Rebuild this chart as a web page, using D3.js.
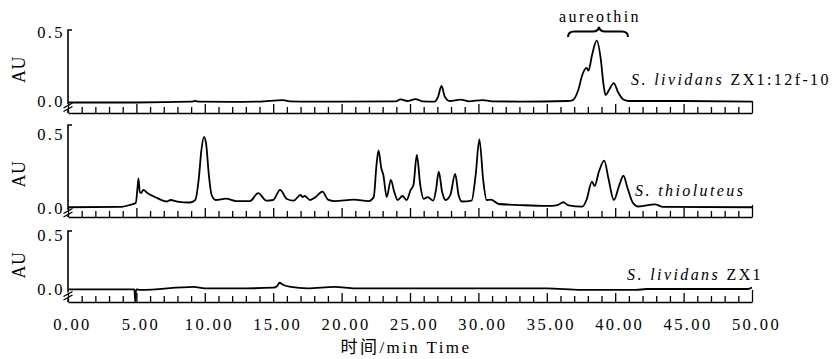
<!DOCTYPE html>
<html>
<head>
<meta charset="utf-8">
<script src="https://cdn.jsdelivr.net/npm/d3@7"></script>
<style>
  body { margin: 0; background: #fff; }
  svg text { font-family: "Liberation Serif", "Times New Roman", "DejaVu Serif", serif; letter-spacing: 2.4px; fill: #000; }
</style>
</head>
<body>
<div id="root"></div>
<script>
// retention time ticks (min) and absorbance ticks
const TIME_TICKS = d3.range(0, 51);
const AU_TICKS = [0, 0.5];

// [time (min), AU]
const engineered = [
  [0, -0.011], [5, -0.011], [9, -0.005], [9.3, 0], [9.6, -0.005], [12, -0.007], [14, -0.004],
  [15.7, 0.007], [16.2, -0.003], [17, -0.004], [20, -0.005], [24, -0.002], [24.3, 0.012],
  [24.8, 0], [25.4, 0.014], [25.9, -0.002], [26.8, -0.004], [27.05, 0.03], [27.3, 0.109],
  [27.55, 0.03], [27.9, 0], [28.7, 0.01], [29.3, -0.002], [30.3, 0.007], [31, -0.003],
  [33, -0.004], [36.5, 0], [36.9, 0.007], [37.3, 0.08], [37.6, 0.19], [37.9, 0.24],
  [38.05, 0.22], [38.3, 0.33], [38.65, 0.437], [38.95, 0.30], [39.15, 0.116], [39.3, 0.043],
  [39.55, 0.08], [39.9, 0.13], [40.2, 0.065], [40.6, 0.011], [41, 0], [45, 0], [50, -0.004]
];

const thioluteus = [
  [0, 0.005], [3.8, 0.007], [4.5, 0.02], [4.95, 0.034], [5.1, 0.155], [5.15, 0.2], [5.25, 0.108],
  [5.35, 0.101], [5.5, 0.122], [5.8, 0.101], [6.5, 0.068], [7.2, 0.044], [7.5, 0.054], [8, 0.043],
  [8.9, 0.037], [9.3, 0.054], [9.55, 0.19], [9.75, 0.39], [9.94, 0.48], [10.1, 0.43], [10.3, 0.22],
  [10.5, 0.088], [10.8, 0.054], [11.55, 0.063], [12.3, 0.047], [13.3, 0.047], [13.9, 0.1],
  [14.5, 0.05], [15, 0.054], [15.5, 0.122], [16, 0.061], [16.5, 0.05], [17, 0.088], [17.15, 0.074],
  [17.3, 0.081], [17.7, 0.054], [18.1, 0.074], [18.6, 0.11], [19, 0.057], [19.5, 0.047],
  [20.9, 0.057], [22, 0.047], [22.35, 0.074], [22.55, 0.29], [22.7, 0.39], [22.9, 0.27],
  [23.05, 0.223], [23.3, 0.074], [23.6, 0.19], [23.85, 0.108], [24.1, 0.054], [24.45, 0.081],
  [24.75, 0.054], [25.05, 0.122], [25.25, 0.155], [25.5, 0.358], [25.75, 0.155], [26, 0.061],
  [26.3, 0.074], [26.7, 0.05], [26.9, 0.122], [27.1, 0.245], [27.35, 0.108], [27.6, 0.054],
  [27.95, 0.088], [28.3, 0.23], [28.55, 0.088], [28.8, 0.044], [29.5, 0.05], [29.8, 0.223],
  [30.07, 0.464], [30.35, 0.19], [30.6, 0.054], [30.9, 0.057], [31.5, 0.027], [33, 0.02],
  [35, 0.014], [35.8, 0.02], [36.2, 0.039], [36.6, 0.017], [37.6, 0.009], [37.9, 0.054],
  [38.3, 0.178], [38.5, 0.149], [38.8, 0.243], [39.2, 0.32], [39.5, 0.203], [39.9, 0.054],
  [40.3, 0.155], [40.6, 0.218], [40.9, 0.135], [41.3, 0.034], [41.7, 0.01], [42.9, 0.025],
  [43.5, 0.007], [50, 0.005]
];

const wildType = [
  [0, -0.003], [4.85, -0.003], [4.92, -0.12], [4.98, -0.003], [5.3, -0.009], [9.2, 0.019], [10, 0.005],
  [13, 0.006], [15, 0.012], [15.3, 0.028], [15.45, 0.058], [15.75, 0.037], [16.3, 0.019],
  [17.5, 0.006], [19.5, 0.019], [21, 0.006], [35, 0.006], [37.5, -0.009], [41.5, -0.009],
  [42.3, 0], [49.7, 0], [50, 0.014]
];

const SERIES = [engineered, thioluteus, wildType];
const SAMPLE_ITALIC = ["S. lividans", "S. thioluteus", "S. lividans"];
const SAMPLE_PLAIN = [" ZX1:12f-10", "", " ZX1"];
const PEAK_NAME = "aureothin";
const X_TITLE = "时间/min Time";
const Y_TITLE = "AU";

const width = 837;
const height = 359;

// pixel layout of the three stacked panels
const panels = [
  { cap: 30,  half: 32,  zero: 101, base: 113, nameX: 631, nameY: 85 },
  { cap: 125, half: 134, zero: 208, base: 217, nameX: 635, nameY: 196 },
  { cap: 231, half: 235, zero: 289, base: 302, nameX: 627, nameY: 280 }
];

const svg = d3.select("#root")
  .append("svg")
    .attr("width", width)
    .attr("height", height);

const x = d3.scaleLinear()
  .domain([0, 50])
  .range([68, 752]);

panels.forEach((p, i) => {
  const y = d3.scaleLinear()
    .domain([0, 0.5])
    .range([p.zero, p.half]);

  const g = svg.append("g");

  // time axis, ticks pointing up
  const xAxis = g.append("g")
    .attr("transform", `translate(0,${p.base})`)
    .call(d3.axisBottom(x)
      .tickValues(TIME_TICKS)
      .tickSizeInner(-6)
      .tickSizeOuter(0)
      .tickPadding(16)
      .tickFormat(d => (i === 2 && d % 5 === 0) ? d3.format(".2f")(d) : ""));

  xAxis.attr("font-family", null);
  xAxis.select(".domain").attr("stroke-width", 1.6);
  xAxis.selectAll(".tick line")
    .attr("stroke-width", 1.3)
    .filter(d => d % 5 === 0)
    .attr("y2", d => d === 50 ? -12 : -9);
  xAxis.selectAll("text")
    .attr("font-size", 16.5)
    .attr("dx", 4);

  // absorbance axis labels
  const yAxis = g.append("g")
    .attr("transform", "translate(68,0)")
    .call(d3.axisLeft(y)
      .tickValues(AU_TICKS)
      .tickSize(0)
      .tickPadding(3)
      .tickFormat(d3.format(".1f")));
  yAxis.attr("font-family", null);
  yAxis.select(".domain").remove();
  yAxis.selectAll("text")
    .attr("font-size", 16.5);

  // axis line with a break near the bottom
  const m = (p.zero + p.base) / 2;
  g.append("path")
    .attr("d", `M72,${p.cap}H68V${m - 3}M68,${m + 3}V${p.base}`)
    .attr("fill", "none")
    .attr("stroke", "#000")
    .attr("stroke-width", 1.6);
  g.append("path")
    .attr("d", `M63.5,${m + 1}L72.5,${m - 4}M63.5,${m + 4.5}L72.5,${m - 0.5}`)
    .attr("fill", "none")
    .attr("stroke", "#000")
    .attr("stroke-width", 1.4);

  g.append("text")
    .attr("transform", `translate(25,${(p.half + p.zero) / 2 + 3}) rotate(-90)`)
    .attr("text-anchor", "middle")
    .attr("font-size", 18)
    .style("letter-spacing", "0.5px")
    .text(Y_TITLE);

  // chromatogram
  g.append("path")
    .datum(SERIES[i])
    .attr("fill", "none")
    .attr("stroke", "#000")
    .attr("stroke-width", 1.8)
    .attr("stroke-linejoin", "round")
    .attr("d", d3.line()
      .x(d => x(d[0]))
      .y(d => y(d[1]))
      .curve(d3.curveMonotoneX));

  const name = g.append("text")
    .attr("x", p.nameX)
    .attr("y", p.nameY)
    .attr("font-size", 16);
  name.append("tspan").attr("font-style", "italic").text(SAMPLE_ITALIC[i]);
  name.append("tspan").text(SAMPLE_PLAIN[i]);
});

// brace over the aureothin peaks
svg.append("path")
  .attr("d", "M568,37Q568,31.5 574,31.5L593,31.5Q598,31.5 599,27Q600,31.5 605,31.5L622,31.5Q628,31.5 628,37")
  .attr("fill", "none")
  .attr("stroke", "#000")
  .attr("stroke-width", 2);

svg.append("text")
  .attr("x", 600)
  .attr("y", 22)
  .attr("text-anchor", "middle")
  .attr("font-size", 16)
  .text(PEAK_NAME);

svg.append("text")
  .attr("x", 406)
  .attr("y", 353)
  .attr("text-anchor", "middle")
  .attr("font-size", 17)
  .style("font-family", "'Liberation Serif', 'Noto Sans CJK SC', serif")
  .text(X_TITLE);
</script>
</body>
</html>
